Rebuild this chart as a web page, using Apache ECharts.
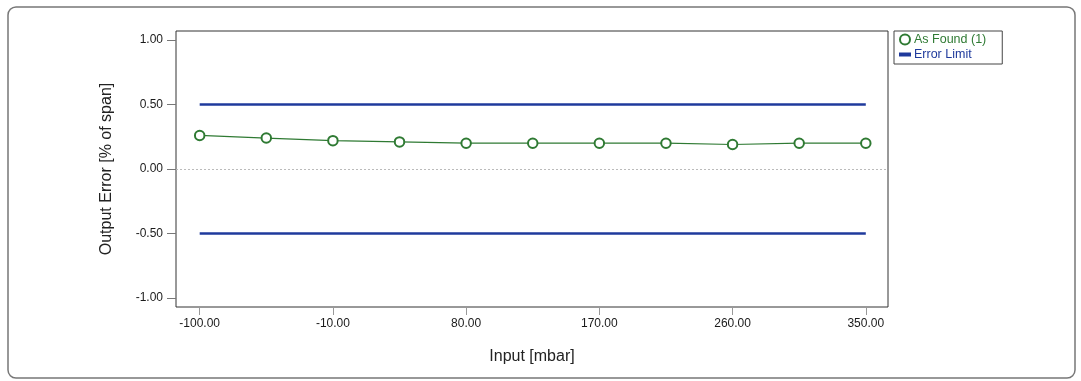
<!DOCTYPE html>
<html>
<head>
<meta charset="utf-8">
<script src="https://cdn.jsdelivr.net/npm/echarts@6/dist/echarts.min.js"></script>
<style>
  html, body { margin: 0; padding: 0; background: #fff; }
  #chart { width: 1081px; height: 381px; }
</style>
</head>
<body>
<div id="chart"></div>
<script>
  // input points (mbar) and as-found error (% of span)
  let inputs = [-100, -55, -10, 35, 80, 125, 170, 215, 260, 305, 350]
  let asFound = [0.26, 0.24, 0.22, 0.21, 0.20, 0.20, 0.20, 0.20, 0.19, 0.20, 0.20]
  let limitX = [-100, 350]
  let upperLimit = [0.50, 0.50]
  let lowerLimit = [-0.50, -0.50]
  let xTicks = [-100, -10, 80, 170, 260, 350]
  let yTicks = [-1, -0.5, 0, 0.5, 1]

  let green = '#2f7a33'
  let blue = '#1f3a9c'
  let font = 'Liberation Sans, Arial, sans-serif'

  function pairs(xs, ys) {
    return xs.map(function (x, i) { return [x, ys[i]] })
  }

  let myChart = echarts.init(document.getElementById('chart'))
  let option = {
    animation: false,
    textStyle: { fontFamily: font },
    graphic: [{
      type: 'rect',
      shape: { x: 8, y: 7, width: 1067, height: 371, r: 8 },
      style: { fill: 'none', stroke: '#777', lineWidth: 1.5 },
      silent: true
    }],
    legend: {
      orient: 'vertical',
      left: 894,
      top: 31,
      padding: [2, 16, 3, 5],
      itemGap: 2,
      itemWidth: 12,
      itemHeight: 10,
      borderColor: '#444',
      borderWidth: 1,
      textStyle: { fontSize: 12.5, fontFamily: font, padding: [0, 0, 0, -2] },
      data: [
        { name: 'As Found (1)', icon: 'emptyCircle', textStyle: { color: green } },
        { name: 'Error Limit', icon: 'path://M0,0 L12,0 L12,4 L0,4 Z', textStyle: { color: blue } }
      ]
    },
    grid: {
      left: 176,
      top: 31,
      right: 193,
      bottom: 74,
      show: true,
      borderColor: '#333',
      borderWidth: 1
    },
    xAxis: {
      type: 'value',
      min: -116,
      max: 365,
      name: 'Input [mbar]',
      nameLocation: 'middle',
      nameGap: 42,
      nameTextStyle: { fontSize: 16, color: '#222', fontFamily: font },
      axisLine: { show: false, onZero: false },
      axisTick: { show: true, length: 8, lineStyle: { color: '#999' }, customValues: xTicks },
      axisLabel: {
        customValues: xTicks,
        margin: 11,
        fontSize: 12,
        color: '#1a1a1a',
        formatter: function (v) { return v.toFixed(2) }
      },
      splitLine: { show: false }
    },
    yAxis: {
      type: 'value',
      min: -1.07,
      max: 1.07,
      name: 'Output Error [% of span]',
      nameLocation: 'middle',
      nameGap: 61,
      nameTextStyle: { fontSize: 16, color: '#222', fontFamily: font },
      axisLine: { show: false, onZero: false },
      axisTick: { show: true, length: 9, lineStyle: { color: '#777' }, customValues: yTicks },
      axisLabel: {
        customValues: yTicks,
        margin: 13,
        fontSize: 12,
        color: '#1a1a1a',
        formatter: function (v) { return v.toFixed(2) }
      },
      splitLine: { show: false }
    },
    series: [
      {
        name: 'Error Limit',
        type: 'line',
        data: pairs(limitX, upperLimit),
        symbol: 'none',
        lineStyle: { color: blue, width: 2.3 },
        itemStyle: { color: blue },
        silent: true,
        markLine: {
          silent: true,
          symbol: 'none',
          label: { show: false },
          lineStyle: { color: '#bbb', width: 1, type: [2, 2] },
          data: [{ yAxis: 0 }]
        }
      },
      {
        name: 'Error Limit',
        type: 'line',
        data: pairs(limitX, lowerLimit),
        symbol: 'none',
        lineStyle: { color: blue, width: 2.3 },
        itemStyle: { color: blue },
        silent: true
      },
      {
        name: 'As Found (1)',
        type: 'line',
        data: pairs(inputs, asFound),
        symbol: 'emptyCircle',
        symbolSize: 9.5,
        lineStyle: { color: green, width: 1.2 },
        itemStyle: { color: green, borderColor: green, borderWidth: 1.5 },
        z: 3
      }
    ]
  }
  myChart.setOption(option)
</script>
</body>
</html>
